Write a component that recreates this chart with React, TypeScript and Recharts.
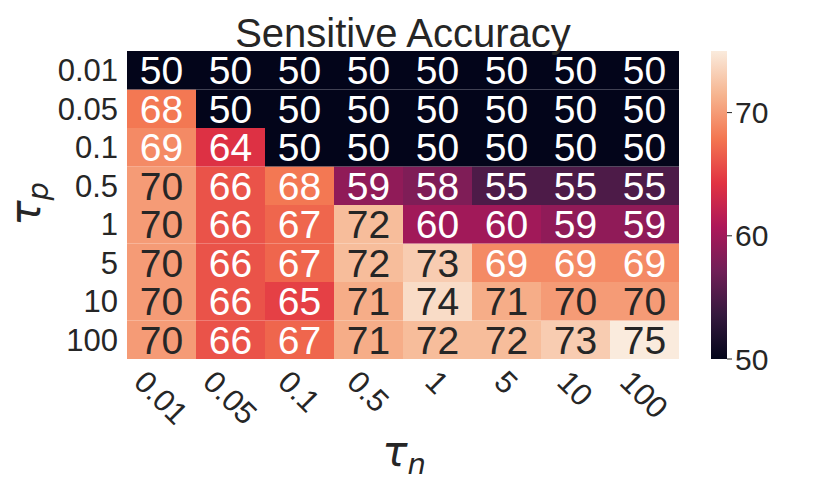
import React from 'react';
import { BarChart, Bar, XAxis, YAxis } from 'recharts';

// tau_n along the columns, tau_p down the rows
const tauN = ['0.01', '0.05', '0.1', '0.5', '1', '5', '10', '100'];
const tauP = ['0.01', '0.05', '0.1', '0.5', '1', '5', '10', '100'];

const accP001 = [50, 50, 50, 50, 50, 50, 50, 50];
const accP005 = [68, 50, 50, 50, 50, 50, 50, 50];
const accP01 = [69, 64, 50, 50, 50, 50, 50, 50];
const accP05 = [70, 66, 68, 59, 58, 55, 55, 55];
const accP1 = [70, 66, 67, 72, 60, 60, 59, 59];
const accP5 = [70, 66, 67, 72, 73, 69, 69, 69];
const accP10 = [70, 66, 65, 71, 74, 71, 70, 70];
const accP100 = [70, 66, 67, 71, 72, 72, 73, 75];
const accRows = [accP001, accP005, accP01, accP05, accP1, accP5, accP10, accP100];

const vMin = 50;
const vMax = 75;
const cbarTicks = [50, 60, 70];

// seaborn "rocket" colormap, sampled
const rocket = ['#03051a', '#35193e', '#701f57', '#ad1759', '#e13342', '#f37651', '#f6b48f', '#faebdd'];

const FONT = '"Liberation Sans", Arial, sans-serif';
const INK = '#262626';

function hexRgb(h: string) {
  return [1, 3, 5].map((i) => parseInt(h.slice(i, i + 2), 16));
}

function rocketRgb(v: number) {
  let t = (v - vMin) / (vMax - vMin);
  t = Math.max(0, Math.min(1, t));
  const seg = t * (rocket.length - 1);
  const i = Math.min(rocket.length - 2, Math.floor(seg));
  const f = seg - i;
  const a = hexRgb(rocket[i]);
  const b = hexRgb(rocket[i + 1]);
  return a.map((c, k) => Math.round(c + (b[k] - c) * f));
}

function cellColor(v: number) {
  const [r, g, b] = rocketRgb(v);
  return `rgb(${r},${g},${b})`;
}

function textColor(v: number) {
  const lin = rocketRgb(v).map((c) => {
    const s = c / 255;
    return s <= 0.03928 ? s / 12.92 : Math.pow((s + 0.055) / 1.055, 2.4);
  });
  const lum = 0.2126 * lin[0] + 0.7152 * lin[1] + 0.0722 * lin[2];
  return lum > 0.408 ? INK : '#ffffff';
}

// every cell is one unit of a stacked column
const heatData = tauN.map((col) => {
  const d: any = { col };
  tauP.forEach((_, i) => (d[`r${i}`] = 1));
  return d;
});

const cbarData = [{ name: 'cbar', span: [vMin, vMax] }];

const charW = (s: string) => s.split('').reduce((w, ch) => w + (ch === '.' ? 0.278 : 0.556), 0);

const XTick = (props: any) => {
  const { x, y, payload } = props;
  const fs = 31;
  const w = charW(payload.value) * fs;
  const cy = y + 9 + (w + 0.716 * fs) * 0.354;
  return (
    <text
      x={x}
      y={cy}
      dy="0.36em"
      textAnchor="middle"
      transform={`rotate(45 ${x} ${cy})`}
      fontSize={fs}
      fontFamily={FONT}
      fill={INK}
    >
      {payload.value}
    </text>
  );
};

const YTick = (props: any) => {
  const { x, y, payload } = props;
  const label = tauP[tauP.length - 1 - Math.floor(payload.value)];
  return (
    <text x={x - 9} y={y} dy="0.36em" textAnchor="end" fontSize={31} fontFamily={FONT} fill={INK}>
      {label}
    </text>
  );
};

const cellShape = (row: number) => (props: any) => {
  const { x, y, width, height, index } = props;
  const v = accRows[row][index];
  return (
    <g>
      <rect x={x} y={y} width={width} height={height} fill={cellColor(v)} />
      <text
        x={x + width / 2}
        y={y + height / 2}
        dy="0.36em"
        textAnchor="middle"
        fontSize={39}
        fontFamily={FONT}
        fill={textColor(v)}
      >
        {v}
      </text>
    </g>
  );
};

export default function App() {
  const stackOrder = tauP.map((_, i) => i).reverse();
  return (
    <div style={{ position: 'relative', width: 830, height: 491, background: '#fff' }}>
      <style>{'body{margin:0}'}</style>
      <BarChart
        width={830}
        height={491}
        data={heatData}
        margin={{ top: 51, right: 151, bottom: 32, left: 27 }}
        barCategoryGap={0}
        barGap={0}
      >
        <XAxis dataKey="col" height={100} tickSize={0} tickMargin={0} axisLine={false} tickLine={false} tick={<XTick />} interval={0} />
        <YAxis
          type="number"
          domain={[0, tauP.length]}
          ticks={tauP.map((_, i) => i + 0.5)}
          width={100}
          tickSize={0}
          tickMargin={0}
          axisLine={false}
          tickLine={false}
          tick={<YTick />}
          interval={0}
        />
        {stackOrder.map((row) => (
          <Bar key={row} dataKey={`r${row}`} stackId="heat" isAnimationActive={false} shape={cellShape(row)} />
        ))}
      </BarChart>

      <div style={{ position: 'absolute', left: 700, top: 0 }}>
        <BarChart
          width={130}
          height={491}
          data={cbarData}
          margin={{ top: 51, right: 0, bottom: 132, left: 11 }}
          barCategoryGap={0}
        >
          <defs>
            <linearGradient id="rocketGrad" x1="0" y1="1" x2="0" y2="0">
              {rocket.map((c, i) => (
                <stop key={i} offset={i / (rocket.length - 1)} stopColor={c} />
              ))}
            </linearGradient>
          </defs>
          <XAxis dataKey="name" hide />
          <YAxis
            type="number"
            orientation="right"
            domain={[vMin, vMax]}
            ticks={cbarTicks}
            width={103}
            axisLine={false}
            tickSize={5}
            tickMargin={3}
            tickLine={{ stroke: INK, strokeWidth: 1 }}
            tick={{ fontSize: 30, fill: INK, fontFamily: FONT }}
          />
          <Bar dataKey="span" fill="url(#rocketGrad)" isAnimationActive={false} />
        </BarChart>
      </div>

      <svg width={830} height={491} style={{ position: 'absolute', left: 0, top: 0, pointerEvents: 'none' }}>
        <text x={403} y={47} textAnchor="middle" fontSize={40} fontFamily={FONT} fill={INK}>
          Sensitive Accuracy
        </text>
        <text x={404} y={466} textAnchor="middle" fontSize={42} fontFamily='"DejaVu Sans", sans-serif' fontStyle="italic" fill={INK}>
          τ<tspan fontSize={29} dy={8}>n</tspan>
        </text>
        <text
          x={40}
          y={204}
          textAnchor="middle"
          transform="rotate(-90 40 204)"
          fontSize={42}
          fontFamily='"DejaVu Sans", sans-serif'
          fontStyle="italic"
          fill={INK}
        >
          τ<tspan fontSize={29} dy={8}>p</tspan>
        </text>
      </svg>
    </div>
  );
}
